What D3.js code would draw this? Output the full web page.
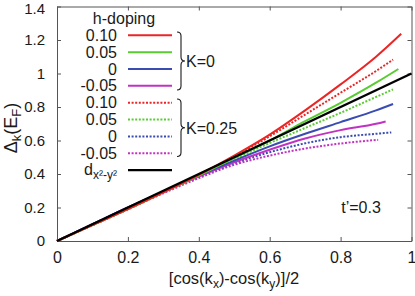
<!DOCTYPE html>
<html>
<head>
<meta charset="utf-8">
<script src="https://cdn.jsdelivr.net/npm/d3@7"></script>
<style>
  body { margin: 0; background: #fff; }
  text { font-family: "Liberation Sans", Arial, sans-serif; fill: #1a1a1a; }
</style>
</head>
<body>
<svg id="chart" width="415" height="296"></svg>
<script>
// gap values, [x, delta] pairs
const k0_p10 = [[0,0],[0.1,0.095],[0.2,0.19],[0.3,0.29],[0.4,0.395],[0.5,0.51],[0.6,0.635],[0.7,0.78],[0.8,0.935],[0.9,1.1],[0.971,1.237]];
const k0_p05 = [[0,0],[0.1,0.095],[0.2,0.19],[0.3,0.29],[0.4,0.39],[0.5,0.495],[0.6,0.6],[0.7,0.715],[0.8,0.825],[0.9,0.945],[0.963,1.027]];
const k0_0   = [[0,0],[0.1,0.1],[0.2,0.2],[0.3,0.295],[0.4,0.39],[0.5,0.48],[0.6,0.565],[0.7,0.64],[0.8,0.71],[0.9,0.78],[0.948,0.818]];
const k0_m05 = [[0,0],[0.1,0.1],[0.2,0.2],[0.3,0.295],[0.4,0.385],[0.5,0.47],[0.6,0.545],[0.7,0.612],[0.8,0.662],[0.9,0.7],[0.927,0.714]];
const k25_p10 = [[0,0],[0.1,0.095],[0.2,0.19],[0.3,0.29],[0.4,0.395],[0.5,0.505],[0.6,0.625],[0.7,0.755],[0.8,0.885],[0.9,1.015],[0.948,1.083]];
const k25_p05 = [[0,0],[0.1,0.095],[0.2,0.19],[0.3,0.29],[0.4,0.39],[0.5,0.49],[0.6,0.585],[0.7,0.675],[0.8,0.765],[0.9,0.86],[0.948,0.905]];
const k25_0   = [[0,0],[0.1,0.1],[0.2,0.2],[0.3,0.295],[0.4,0.385],[0.5,0.465],[0.6,0.53],[0.7,0.583],[0.8,0.62],[0.9,0.64],[0.943,0.648]];
const k25_m05 = [[0,0],[0.1,0.095],[0.2,0.19],[0.3,0.285],[0.4,0.375],[0.5,0.455],[0.6,0.51],[0.7,0.552],[0.8,0.582],[0.9,0.603],[0.906,0.604]];
const dwave = [[0,0],[1,1]];

const dopings = ["0.10", "0.05", "0", "-0.05"];
const dopColors = ["#ec2424", "#58cc30", "#3a4cb2", "#c232c2"];
const xTicks = [0, 0.2, 0.4, 0.6, 0.8, 1];
const yTicks = [0, 0.2, 0.4, 0.6, 0.8, 1, 1.2, 1.4];

const svg = d3.select("#chart");
const box = { left: 57, right: 411.5, top: 6.5, bottom: 241 };

const x = d3.scaleLinear().domain([0, 1]).range([box.left, box.right]);
const y = d3.scaleLinear().domain([0, 1.4]).range([box.bottom, box.top]);

// axes, ticks pointing inward on all four sides
function styleAxis(g, size) {
  g.selectAll("path").attr("stroke", "#555");
  g.selectAll("line").attr("stroke", "#555");
  g.selectAll("text").style("font-size", size || "16px").attr("fill", "#1a1a1a")
    .style("font-family", "'Liberation Sans', Arial, sans-serif");
}
svg.append("g").attr("transform", `translate(0,${box.bottom})`)
  .call(d3.axisBottom(x).tickValues(xTicks).tickFormat(d3.format("")).tickSizeInner(-4).tickSizeOuter(0).tickPadding(11))
  .call(styleAxis);
svg.append("g").attr("transform", `translate(0,${box.top})`)
  .call(d3.axisTop(x).tickValues(xTicks).tickFormat("").tickSizeInner(-4).tickSizeOuter(0))
  .call(styleAxis);
const yAxisG = svg.append("g").attr("transform", `translate(${box.left},0)`)
  .call(d3.axisLeft(y).tickValues(yTicks).tickFormat(d3.format("")).tickSizeInner(-4).tickSizeOuter(0).tickPadding(12))
  .call(styleAxis, "15px");
// top label sits at the very edge; nudge it down a touch so it isn't clipped
yAxisG.selectAll(".tick text").filter(d => d === 1.4).attr("dy", "0.45em");
svg.append("g").attr("transform", `translate(${box.right},0)`)
  .call(d3.axisRight(y).tickValues(yTicks).tickFormat("").tickSizeInner(-4).tickSizeOuter(0))
  .call(styleAxis);

// curves
const line = d3.line().x(d => x(d[0])).y(d => y(d[1])).curve(d3.curveMonotoneX);
const dotted = "2,1.6";
const curves = [
  { data: k25_m05, color: dopColors[3], dash: dotted },
  { data: k25_0, color: dopColors[2], dash: dotted },
  { data: k25_p05, color: dopColors[1], dash: dotted },
  { data: k25_p10, color: dopColors[0], dash: dotted },
  { data: k0_m05, color: dopColors[3], dash: null },
  { data: k0_0, color: dopColors[2], dash: null },
  { data: k0_p05, color: dopColors[1], dash: null },
  { data: k0_p10, color: dopColors[0], dash: null },
  { data: dwave, color: "#000", dash: null, w: 2.4 }
];
svg.selectAll(".curve")
  .data(curves)
  .enter()
  .append("path")
    .attr("class", "curve")
    .attr("d", d => line(d.data))
    .attr("fill", "none")
    .attr("stroke", d => d.color)
    .attr("stroke-width", d => d.w || 2)
    .attr("stroke-dasharray", d => d.dash);

// legend
const rowY = i => 35.3 + i * 16.85;
const leg = svg.append("g");
leg.append("text").attr("x", 124).attr("y", 24).attr("text-anchor", "middle")
  .style("font-size", "16px").text("h-doping");

const legRows = [];
dopings.forEach((d, i) => legRows.push({ label: d, color: dopColors[i], dash: null }));
dopings.forEach((d, i) => legRows.push({ label: d, color: dopColors[i], dash: dotted }));

leg.selectAll(".legLabel")
  .data(legRows)
  .enter()
  .append("text")
    .attr("x", 117)
    .attr("y", (d, i) => rowY(i) + 5.5)
    .attr("text-anchor", "end")
    .style("font-size", "16px")
    .text(d => d.label);
leg.selectAll(".legLine")
  .data(legRows)
  .enter()
  .append("line")
    .attr("x1", 128).attr("x2", 172)
    .attr("y1", (d, i) => rowY(i)).attr("y2", (d, i) => rowY(i))
    .attr("stroke", d => d.color)
    .attr("stroke-width", 2)
    .attr("stroke-dasharray", d => d.dash);

// d-wave entry
const dl = leg.append("text").attr("x", 117).attr("y", rowY(8) + 5).attr("text-anchor", "end")
  .style("font-size", "16px");
dl.append("tspan").text("d");
dl.append("tspan").attr("dy", 4).style("font-size", "12px").text("x²-y²");
leg.append("line").attr("x1", 128).attr("x2", 172).attr("y1", rowY(8)).attr("y2", rowY(8))
  .attr("stroke", "#000").attr("stroke-width", 2.4);

// curly braces
function brace(x0, y1, y2, w) {
  const ym = (y1 + y2) / 2, r = 4, xm = x0 + w / 2;
  return `M${x0},${y1} Q${xm},${y1} ${xm},${y1 + r} L${xm},${ym - r} Q${xm},${ym} ${x0 + w},${ym}` +
         ` Q${xm},${ym} ${xm},${ym + r} L${xm},${y2 - r} Q${xm},${y2} ${x0},${y2}`;
}
const braces = [
  { y1: 32, y2: 90, label: "K=0" },
  { y1: 99, y2: 156.5, label: "K=0.25" }
];
leg.selectAll(".brace")
  .data(braces)
  .enter()
  .append("path")
    .attr("d", d => brace(177, d.y1, d.y2, 8))
    .attr("fill", "none")
    .attr("stroke", "#1a1a1a")
    .attr("stroke-width", 1.1);
leg.selectAll(".braceLabel")
  .data(braces)
  .enter()
  .append("text")
    .attr("x", 186)
    .attr("y", d => (d.y1 + d.y2) / 2 + 6)
    .style("font-size", "16px")
    .text(d => d.label);

// annotation
svg.append("text").attr("x", 361).attr("y", 213).attr("text-anchor", "middle")
  .style("font-size", "16px").text("t\u2019=0.3");

// axis titles
const xl = svg.append("text").attr("x", 234).attr("y", 284).attr("text-anchor", "middle")
  .style("font-size", "16.5px");
xl.append("tspan").text("[cos(k");
xl.append("tspan").attr("dy", 4).style("font-size", "12px").text("x");
xl.append("tspan").attr("dy", -4).text(")-cos(k");
xl.append("tspan").attr("dy", 4).style("font-size", "12px").text("y");
xl.append("tspan").attr("dy", -4).text(")]/2");

const yl = svg.append("text").attr("transform", "translate(17,128) rotate(-90)")
  .attr("text-anchor", "middle").style("font-size", "18px");
yl.append("tspan").text("\u0394");
yl.append("tspan").attr("dy", 4).style("font-size", "13px").text("k");
yl.append("tspan").attr("dy", -4).text("(E");
yl.append("tspan").attr("dy", 4).style("font-size", "13px").text("F");
yl.append("tspan").attr("dy", -4).text(")");
</script>
</body>
</html>
